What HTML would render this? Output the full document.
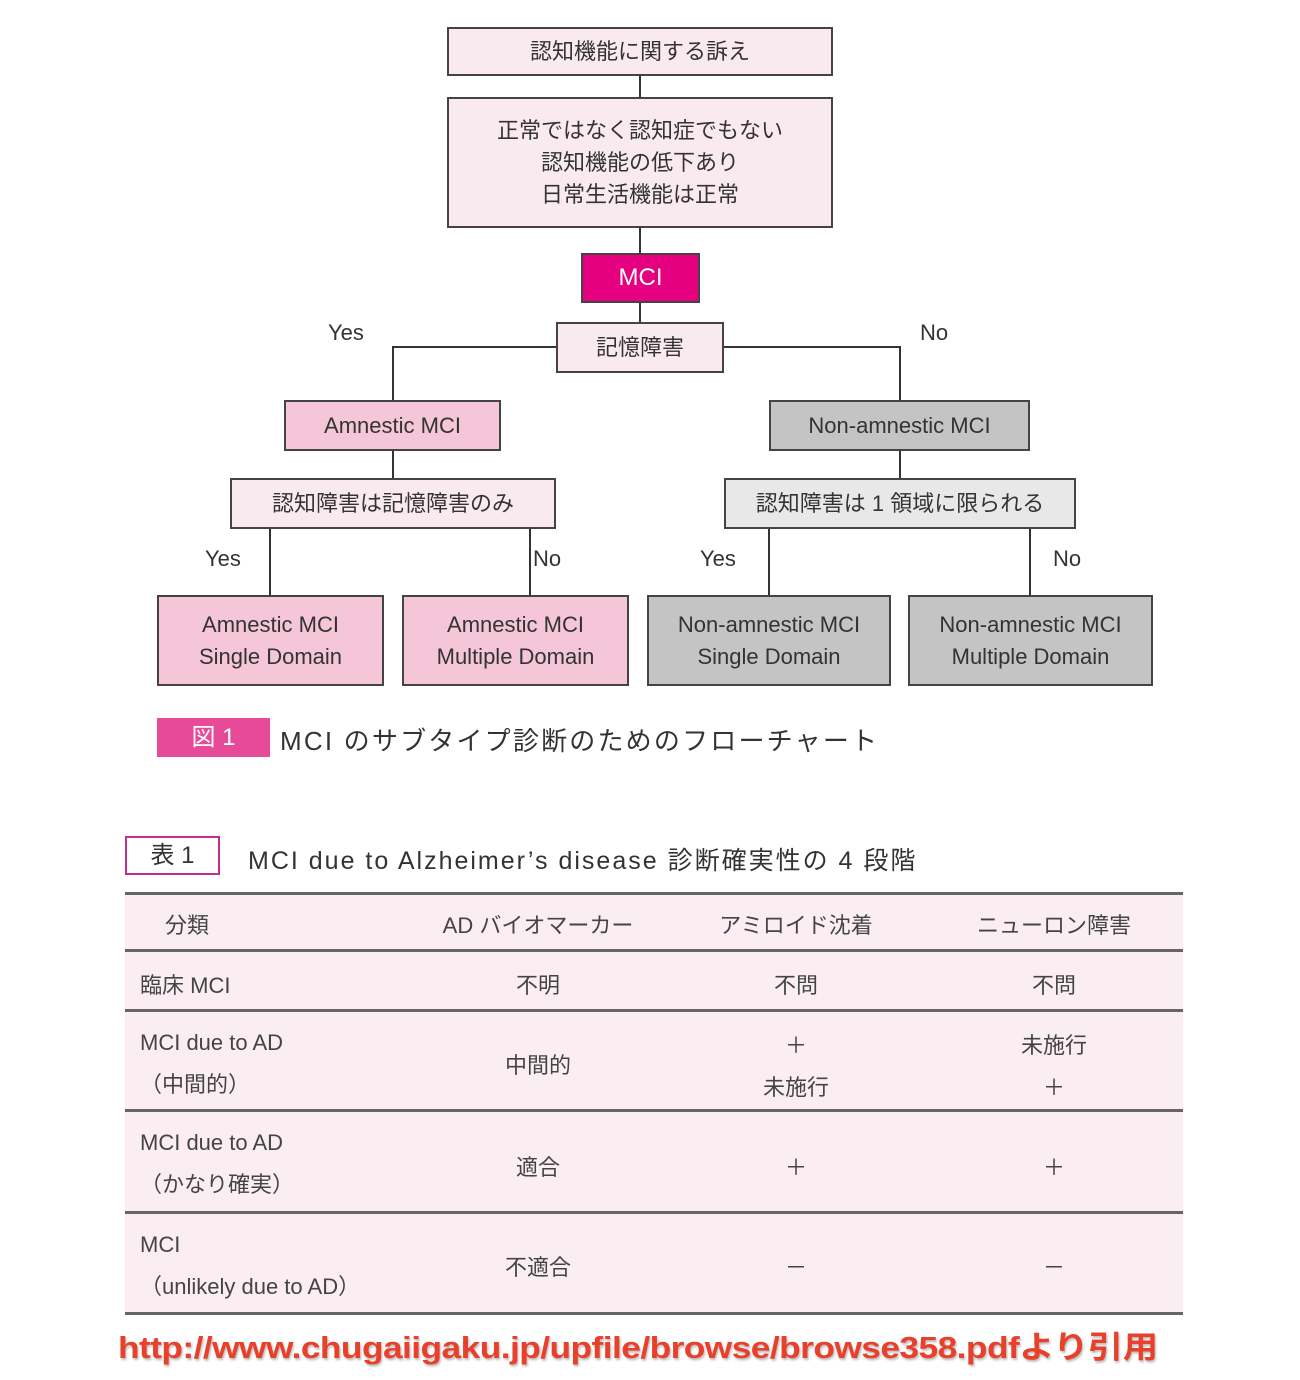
<!DOCTYPE html>
<html><head><meta charset="utf-8"><style>
body{margin:0;width:1300px;height:1380px;background:#fff;position:relative;overflow:hidden;font-family:"Liberation Sans","Noto Sans CJK JP",sans-serif;color:#333}
.b{position:absolute;box-sizing:border-box;border:2.5px solid #444;display:flex;align-items:center;justify-content:center;text-align:center;font-size:22px;line-height:32px;color:#333}
.lp{background:#f9eaf0}.pk{background:#f5c6d7}.gr{background:#c4c4c4}.lg{background:#e8e8e8}
.l{position:absolute;background:#333}
.t{position:absolute;font-size:22px;color:#333;white-space:nowrap}
.hr{position:absolute;left:125px;width:1058px;height:3px;background:#666}
.c{position:absolute;font-size:22px;color:#444;text-align:center;width:200px;white-space:nowrap}
</style></head><body>
<div class="l" style="left:639px;top:75px;width:2px;height:250px"></div>
<div class="l" style="left:392px;top:346px;width:508px;height:2px"></div>
<div class="l" style="left:392px;top:346px;width:2px;height:56px"></div>
<div class="l" style="left:899px;top:346px;width:2px;height:56px"></div>
<div class="l" style="left:392px;top:450px;width:2px;height:30px"></div>
<div class="l" style="left:899px;top:450px;width:2px;height:30px"></div>
<div class="l" style="left:269px;top:528px;width:2px;height:68px"></div>
<div class="l" style="left:529px;top:528px;width:2px;height:68px"></div>
<div class="l" style="left:768px;top:528px;width:2px;height:68px"></div>
<div class="l" style="left:1029px;top:528px;width:2px;height:68px"></div>
<div class="b lp" style="left:447px;top:27px;width:386px;height:49px">認知機能に関する訴え</div>
<div class="b lp" style="left:447px;top:97px;width:386px;height:131px">正常ではなく認知症でもない<br>認知機能の低下あり<br>日常生活機能は正常</div>
<div class="b" style="left:581px;top:253px;width:119px;height:50px;background:#e4007f;color:#fff;font-size:24px">MCI</div>
<div class="b lp" style="left:556px;top:322px;width:168px;height:51px">記憶障害</div>
<div class="b pk" style="left:284px;top:400px;width:217px;height:51px">Amnestic MCI</div>
<div class="b gr" style="left:769px;top:400px;width:261px;height:51px">Non-amnestic MCI</div>
<div class="b lp" style="left:230px;top:478px;width:326px;height:51px">認知障害は記憶障害のみ</div>
<div class="b lg" style="left:724px;top:478px;width:352px;height:51px">認知障害は 1 領域に限られる</div>
<div class="b pk" style="left:157px;top:595px;width:227px;height:91px">Amnestic MCI<br>Single Domain</div>
<div class="b pk" style="left:402px;top:595px;width:227px;height:91px">Amnestic MCI<br>Multiple Domain</div>
<div class="b gr" style="left:647px;top:595px;width:244px;height:91px">Non-amnestic MCI<br>Single Domain</div>
<div class="b gr" style="left:908px;top:595px;width:245px;height:91px">Non-amnestic MCI<br>Multiple Domain</div>
<div class="t" style="left:328px;top:320px">Yes</div>
<div class="t" style="left:920px;top:320px">No</div>
<div class="t" style="left:205px;top:546px">Yes</div>
<div class="t" style="left:533px;top:546px">No</div>
<div class="t" style="left:700px;top:546px">Yes</div>
<div class="t" style="left:1053px;top:546px">No</div>
<div style="position:absolute;left:157px;top:718px;width:113px;height:39px;background:#e84a9a;color:#fff;font-size:24px;line-height:39px;text-align:center">図 1</div>
<div class="t" style="left:280px;top:721px;font-size:26px;letter-spacing:2.2px">MCI のサブタイプ診断のためのフローチャート</div>
<div style="position:absolute;left:125px;top:836px;width:95px;height:39px;box-sizing:border-box;border:2px solid #c0308a;font-size:24px;line-height:35px;text-align:center">表 1</div>
<div class="t" style="left:248px;top:841px;font-size:25px;letter-spacing:2px">MCI due to Alzheimer’s disease 診断確実性の 4 段階</div>
<div style="position:absolute;left:125px;top:893px;width:1058px;height:420px;background:#fbeef3"></div>
<div class="hr" style="top:892px"></div><div class="hr" style="top:949px"></div><div class="hr" style="top:1009px"></div><div class="hr" style="top:1109px"></div><div class="hr" style="top:1211px"></div><div class="hr" style="top:1312px"></div>
<div class="t" style="left:165px;top:908px;color:#444">分類</div>
<div class="c" style="left:438px;top:908px">AD バイオマーカー</div>
<div class="c" style="left:696px;top:908px">アミロイド沈着</div>
<div class="c" style="left:954px;top:908px">ニューロン障害</div>
<div class="t" style="left:140px;top:968px;color:#444">臨床 MCI</div>
<div class="c" style="left:438px;top:968px">不明</div><div class="c" style="left:696px;top:968px">不問</div><div class="c" style="left:954px;top:968px">不問</div>
<div class="t" style="left:140px;top:1022px;color:#444;line-height:42px">MCI due to AD<br>（中間的）</div>
<div class="c" style="left:438px;top:1048px">中間的</div>
<div class="c" style="left:696px;top:1028px">＋</div><div class="c" style="left:696px;top:1070px">未施行</div>
<div class="c" style="left:954px;top:1028px">未施行</div><div class="c" style="left:954px;top:1070px">＋</div>
<div class="t" style="left:140px;top:1122px;color:#444;line-height:42px">MCI due to AD<br>（かなり確実）</div>
<div class="c" style="left:438px;top:1150px">適合</div><div class="c" style="left:696px;top:1150px">＋</div><div class="c" style="left:954px;top:1150px">＋</div>
<div class="t" style="left:140px;top:1224px;color:#444;line-height:42px">MCI<br>（unlikely due to AD）</div>
<div class="c" style="left:438px;top:1250px">不適合</div><div class="c" style="left:696px;top:1250px">－</div><div class="c" style="left:954px;top:1250px">－</div>
<div class="t" style="left:118px;top:1322px;font-size:31px;font-weight:bold;color:#e8402a;letter-spacing:-0.5px;text-shadow:1px 2px 2px #bbb;transform:scaleX(1.14);transform-origin:left top">http://www.chugaiigaku.jp/upfile/browse/browse358.pdfより引用</div>
</body></html>
